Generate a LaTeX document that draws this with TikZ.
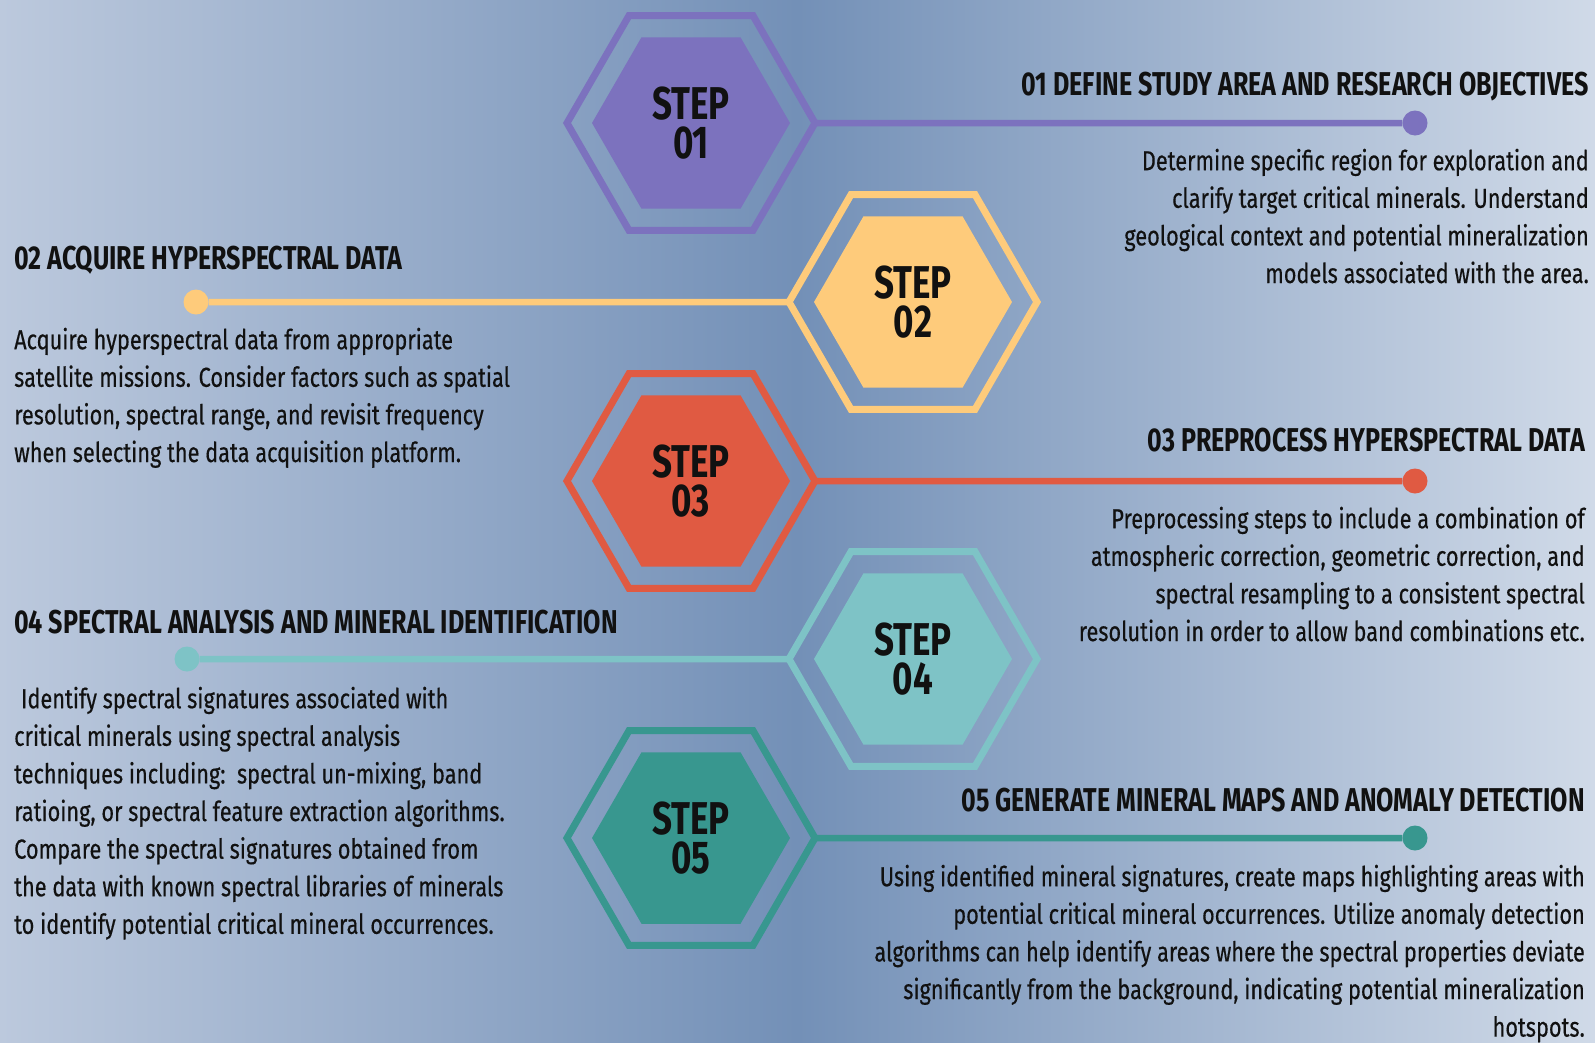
\documentclass[tikz,border=0pt]{standalone}
\usepackage{fontspec}
\setmainfont{Fira Sans}[FakeStretch=0.79, FakeBold=0.4]
\newfontfamily\headfont{Fira Sans}[FakeStretch=0.76]
\usetikzlibrary{shapes.geometric}

\definecolor{bgL}{HTML}{BCC9DD}
\definecolor{bgM}{HTML}{7390B7}
\definecolor{bgR}{HTML}{D0DAE8}
\definecolor{cPurple}{HTML}{7C72BE}
\definecolor{cYellow}{HTML}{FECB7B}
\definecolor{cRed}{HTML}{E05A42}
\definecolor{cAqua}{HTML}{7EC3C6}
\definecolor{cTeal}{HTML}{38978F}
\definecolor{ink}{HTML}{111111}

% fixed-height strut so a paragraph's top edge sits a known distance above its first baseline
\newcommand\firstrule{\rule{0pt}{24pt}}

\tikzset{
  hexcore/.style={regular polygon, regular polygon sides=6, minimum size=198pt,
    inner sep=0pt, outer sep=0pt, fill=#1},
  hexring/.style={regular polygon, regular polygon sides=6, minimum size=248pt,
    inner sep=0pt, outer sep=0pt, draw=#1, line width=7pt, text=ink, align=center,
    font=\headfont\bfseries\fontsize{46}{39}\selectfont},
  enddot/.style={circle, minimum size=25pt, inner sep=0pt, fill=#1},
  link/.style={line width=6.5pt, draw=#1},
  headline/.style={inner sep=0pt, text=ink,
    font=\headfont\bfseries\fontsize{33}{38}\selectfont},
  bodytext/.style={inner sep=0pt, text=ink,
    font=\fontsize{27.5}{37.6}\selectfont}
}

\begin{document}
\begin{tikzpicture}[x=1pt,y=-1pt]
\useasboundingbox (0,0) rectangle (1595,1042);
% background gradient, darkest near the middle
\fill[left color=bgL, right color=bgR, middle color=bgM] (0,0) rectangle (1595,1042);

% step hexagons: filled core, then the outline ring carrying the label
\node[hexcore=cPurple] (c1) at (691,123) {};
\node[hexring=cPurple] (r1) at (c1) {STEP\\01};
\node[hexcore=cYellow] (c2) at (913,302) {};
\node[hexring=cYellow] (r2) at (c2) {STEP\\02};
\node[hexcore=cRed] (c3) at (691,481) {};
\node[hexring=cRed] (r3) at (c3) {STEP\\03};
\node[hexcore=cAqua] (c4) at (913,659) {};
\node[hexring=cAqua] (r4) at (c4) {STEP\\04};
\node[hexcore=cTeal] (c5) at (691,838) {};
\node[hexring=cTeal] (r5) at (c5) {STEP\\05};

% end dots of the leader lines
\node[enddot=cPurple] (d1) at (1415,123) {};
\node[enddot=cYellow] (d2) at (196,302) {};
\node[enddot=cRed] (d3) at (1415,481) {};
\node[enddot=cAqua] (d4) at (187,659) {};
\node[enddot=cTeal] (d5) at (1415,838) {};

% leader lines
\draw[link=cPurple] (r1.east) -- (d1);
\draw[link=cYellow] (r2.west) -- (d2);
\draw[link=cRed] (r3.east) -- (d3);
\draw[link=cAqua] (r4.west) -- (d4);
\draw[link=cTeal] (r5.east) -- (d5);

% headings
\node[headline, anchor=base east] (t1) at (1589,95) {01 DEFINE STUDY AREA AND RESEARCH OBJECTIVES};
\node[headline, anchor=base west] (t2) at (14,269) {02 ACQUIRE HYPERSPECTRAL DATA};
\node[headline, anchor=base east] (t3) at (1585,451) {03 PREPROCESS HYPERSPECTRAL DATA};
\node[headline, anchor=base west] (t4) at (14,633) {04 SPECTRAL ANALYSIS AND MINERAL IDENTIFICATION};
\node[headline, anchor=base east] (t5) at (1585,811) {05 GENERATE MINERAL MAPS AND ANOMALY DETECTION};

% descriptions (top edge = first baseline - 24)
\node[bodytext, align=right, anchor=north east] (b1) at (1589,146) {%
\firstrule Determine specific region for exploration and\\
clarify target critical minerals. Understand\\
geological context and potential mineralization\\
models associated with the area.};
\node[bodytext, align=left, anchor=north west] (b2) at (14,325) {%
\firstrule Acquire hyperspectral data from appropriate\\
satellite missions. Consider factors such as spatial\\
resolution, spectral range, and revisit frequency\\
when selecting the data acquisition platform.};
\node[bodytext, align=right, anchor=north east] (b3) at (1585,504) {%
\firstrule Preprocessing steps to include a combination of\\
atmospheric correction, geometric correction, and\\
spectral resampling to a consistent spectral\\
resolution in order to allow band combinations etc.};
\node[bodytext, align=left, anchor=north west] (b4) at (14,684) {%
\firstrule\hspace*{0.25em}Identify spectral signatures associated with\\
critical minerals using spectral analysis\\
techniques including:\ \ spectral un-mixing, band\\
ratioing, or spectral feature extraction algorithms.\\
Compare the spectral signatures obtained from\\
the data with known spectral libraries of minerals\\
to identify potential critical mineral occurrences.};
\node[bodytext, align=right, anchor=north east] (b5) at (1585,862) {%
\firstrule Using identified mineral signatures, create maps highlighting areas with\\
potential critical mineral occurrences. Utilize anomaly detection\\
algorithms can help identify areas where the spectral properties deviate\\
significantly from the background, indicating potential mineralization\\
hotspots.};
\end{tikzpicture}
\end{document}
